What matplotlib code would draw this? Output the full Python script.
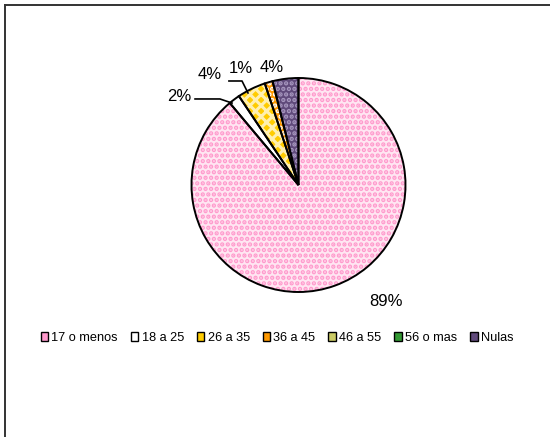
import matplotlib
matplotlib.use("Agg")
import matplotlib.pyplot as plt
import matplotlib.patches as mpatches
from matplotlib.lines import Line2D

plt.rcParams['font.family'] = ['Liberation Sans', 'DejaVu Sans']
plt.rcParams['hatch.linewidth'] = 2.2

# data
groups = ['17 o menos', '18 a 25', '26 a 35', '36 a 45', '46 a 55', '56 o mas', 'Nulas']
shares = [88.9, 1.7, 4.3, 1.2, 0.0, 0.0, 3.9]
labels = ['89%', '2%', '4%', '1%', '', '', '4%']

face = ['#ffe6f2', 'white', '#ffcc00', '#ff9900', '#cccc66', '#339933', '#604a7b']
hatch_col = ['#ff99cc', 'white', '#fff0b0', 'white', '#999933', '#99cc99', '#a898c0']
hatches = ['...', None, 'xxx', '...', '...', '...', '...']
legend_col = ['#ff99cc', 'white', '#ffcc00', '#ff9900', '#cccc66', '#339933', '#604a7b']

fig = plt.figure(figsize=(5.5, 4.37), dpi=100)

# outer frame (top and left edges visible)
fig.add_artist(Line2D([5/550, 1], [1-5/437, 1-5/437], color='#333333', lw=1.4))
fig.add_artist(Line2D([5/550, 5/550], [0, 1-5/437], color='#333333', lw=1.4))

cx, cy, r = 298.5, 185, 107
ax = fig.add_axes([(cx - r)/550, 1 - (cy + r)/437, 2*r/550, 2*r/437])

wedges, _ = ax.pie(shares, startangle=90, counterclock=False, radius=1,
                   wedgeprops=dict(linewidth=0))
for w, fc, hc, h in zip(wedges, face, hatch_col, hatches):
    w.set_facecolor(fc)
    w.set_edgecolor(hc)
    w.set_hatch(h)
    w.set_linewidth(0)

outline, _ = ax.pie(shares, startangle=90, counterclock=False, radius=1,
                    wedgeprops=dict(facecolor='none', edgecolor='black', linewidth=1.4))
for i, w in enumerate(outline):
    if shares[i] == 0:
        w.set_visible(False)

ax.set_xlim(-1, 1)
ax.set_ylim(-1, 1)
ax.set_aspect('equal')
ax.axis('off')

label_pos = [(0.82, -1.09), (-1.11, 0.83), (-0.83, 1.03), (-0.54, 1.09), None, None, (-0.25, 1.10)]
for txt, pos in zip(labels, label_pos):
    if pos is None:
        continue
    ax.text(pos[0], pos[1], txt, ha='center', va='center', fontsize=12, clip_on=False)

# leader lines
ax.plot([-0.967, -0.734, -0.621], [0.804, 0.804, 0.766], color='black', lw=1.2, clip_on=False)
ax.plot([-0.650, -0.528, -0.472], [0.972, 0.972, 0.860], color='black', lw=1.2, clip_on=False)

handles = [mpatches.Patch(facecolor=fc, edgecolor='black', linewidth=1.0, label=g)
           for g, fc in zip(groups, legend_col)]
fig.legend(handles=handles, loc='center', bbox_to_anchor=(277/550, 1 - 338/437),
           ncol=7, frameon=False, fontsize=9.2, handlelength=0.6, handleheight=0.6,
           handletextpad=0.25, columnspacing=1.0, borderpad=0)

fig.savefig('out.png', dpi=100)
